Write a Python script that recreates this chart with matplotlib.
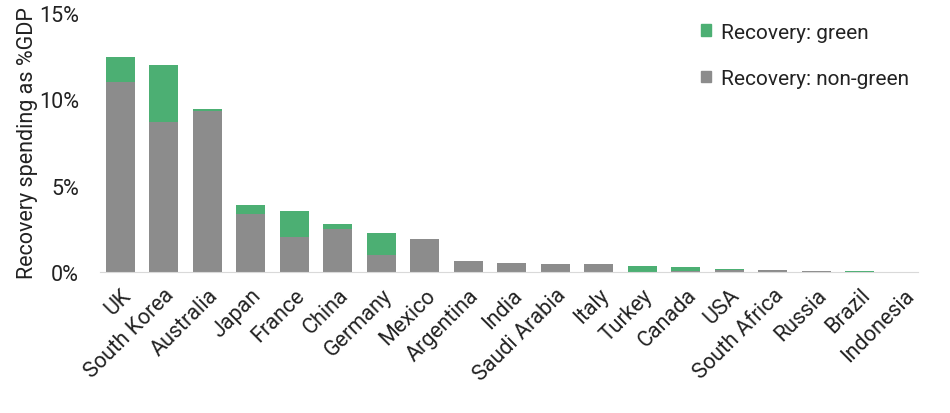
import numpy as np
import matplotlib.pyplot as plt
from matplotlib.patches import Patch

plt.rcParams['font.family'] = ['Roboto', 'DejaVu Sans']

countries = ['UK', 'South Korea', 'Australia', 'Japan', 'France', 'China', 'Germany',
             'Mexico', 'Argentina', 'India', 'Saudi Arabia', 'Italy', 'Turkey', 'Canada',
             'USA', 'South Africa', 'Russia', 'Brazil', 'Indonesia']
# % of GDP
non_green = [11.0, 8.7, 9.3, 3.37, 2.04, 2.5, 1.0, 1.92, 0.65, 0.54, 0.48, 0.46,
             0.0, 0.05, 0.13, 0.09, 0.03, 0.0, 0.0]
green = [1.45, 3.3, 0.16, 0.48, 1.49, 0.29, 1.25, 0.0, 0.0, 0.0, 0.0, 0.0,
         0.36, 0.24, 0.04, 0.0, 0.0, 0.03, 0.0]

c_green = '#4caf73'
c_grey = '#8c8c8c'
fs = 15.5

fig = plt.figure(figsize=(9.5, 4.14), dpi=100)
ax = fig.add_axes([0.105, 0.341, 0.861, 0.625])

x = np.arange(len(countries))
ng = np.array(non_green) / 100
g = np.array(green) / 100
ax.bar(x, ng, width=0.67, color=c_grey)
ax.bar(x, g, width=0.67, bottom=ng, color=c_green)

ax.set_ylim(0, 0.15)
ax.set_xlim(-0.47, 18.33)
ax.set_yticks([0, 0.05, 0.10, 0.15])
ax.set_yticklabels(['0%', '5%', '10%', '15%'], fontsize=fs, color='#222222')
ax.set_xticks(x)
ax.set_xticklabels(countries, rotation=45, ha='right', rotation_mode='anchor',
                   fontsize=fs, color='#222222')
ax.tick_params(axis='y', length=0, pad=15)
ax.tick_params(axis='x', length=0, pad=9)
for s in ['top', 'right', 'left']:
    ax.spines[s].set_visible(False)
ax.spines['bottom'].set_color('#d9d9d9')
ax.set_ylabel('Recovery spending as %GDP', fontsize=fs, color='#222222')
ax.yaxis.set_label_coords(-0.076, 0.5)

handles = [Patch(color=c_green, label='Recovery: green'),
           Patch(color=c_grey, label='Recovery: non-green')]
ax.legend(handles=handles, loc='upper right', bbox_to_anchor=(1.012, 1.035), frameon=False,
          fontsize=fs - 0.5, handlelength=0.5, handleheight=0.5, handletextpad=0.45,
          labelspacing=1.3, labelcolor='#222222')

fig.savefig('out.png', dpi=100)
